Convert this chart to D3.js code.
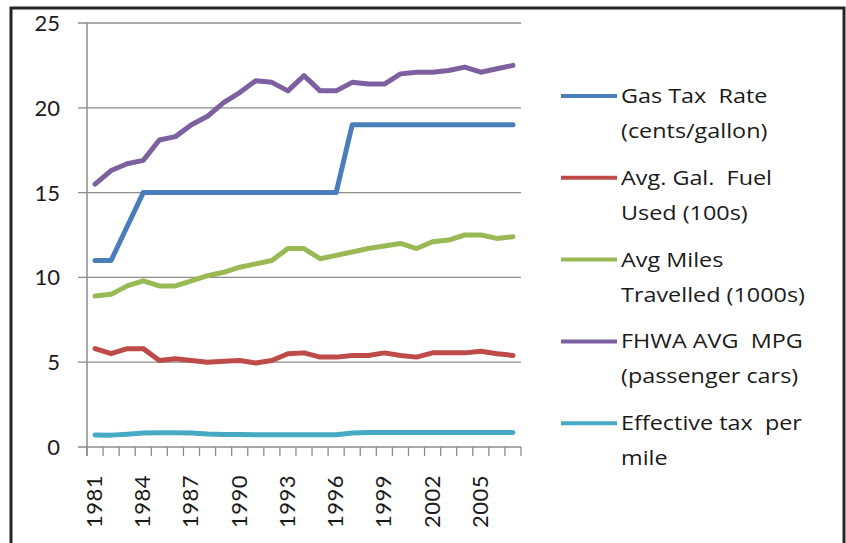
<!DOCTYPE html>
<html>
<head>
<meta charset="utf-8">
<script src="https://cdn.jsdelivr.net/npm/d3@7"></script>
<style>
    html, body { margin: 0; padding: 0; background: #fff; }
    svg text { font-family: Lato, "Open Sans", sans-serif; fill: #1a1a1a; }
    svg text.legend-text { font-family: "Open Sans", Lato, sans-serif; }
</style>
</head>
<body>
<svg id="chart" width="846" height="543"></svg>
<script>
// Years on the category axis
const years = d3.range(1981, 2008).map(String);
const yearLabels = ["1981", "1984", "1987", "1990", "1993", "1996", "1999", "2002", "2005"];
const yTicks = [0, 5, 10, 15, 20, 25];

// Series values
const gasTaxRate = [11, 11, 13, 15, 15, 15, 15, 15, 15, 15, 15, 15, 15, 15, 15, 15,
    19, 19, 19, 19, 19, 19, 19, 19, 19, 19, 19];
const avgGalFuel = [5.8, 5.5, 5.8, 5.8, 5.1, 5.2, 5.1, 5.0, 5.05, 5.1, 4.95, 5.1, 5.5,
    5.55, 5.3, 5.3, 5.4, 5.4, 5.55, 5.4, 5.3, 5.55, 5.55, 5.55, 5.65, 5.5, 5.4];
const avgMiles = [8.9, 9.0, 9.5, 9.8, 9.5, 9.5, 9.8, 10.1, 10.3, 10.6, 10.8, 11.0, 11.7,
    11.7, 11.1, 11.3, 11.5, 11.7, 11.85, 12.0, 11.7, 12.1, 12.2, 12.5, 12.5, 12.3, 12.4];
const fhwaMpg = [15.5, 16.3, 16.7, 16.9, 18.1, 18.3, 19.0, 19.5, 20.3, 20.9, 21.6, 21.5,
    21.0, 21.9, 21.0, 21.0, 21.5, 21.4, 21.4, 22.0, 22.1, 22.1, 22.2, 22.4, 22.1, 22.3, 22.5];
const effTaxPerMile = [0.71, 0.70, 0.75, 0.82, 0.84, 0.84, 0.83, 0.76, 0.73, 0.73, 0.72,
    0.72, 0.72, 0.72, 0.72, 0.72, 0.82, 0.86, 0.86, 0.86, 0.86, 0.86, 0.86, 0.86, 0.86, 0.86, 0.85];

const seriesNames = [
    ["Gas Tax  Rate", "(cents/gallon)"],
    ["Avg. Gal.  Fuel", "Used (100s)"],
    ["Avg Miles", "Travelled (1000s)"],
    ["FHWA AVG  MPG", "(passenger cars)"],
    ["Effective tax  per", "mile"]
];
const seriesColors = ["#4a7ebb", "#be4b48", "#98b954", "#7d60a0", "#46aac5"];
const seriesValues = [gasTaxRate, avgGalFuel, avgMiles, fhwaMpg, effTaxPerMile];

const svg = d3.select('#chart');

// outer frame
svg.append('rect')
    .attr('x', 11).attr('y', 8)
    .attr('width', 833).attr('height', 560)
    .attr('fill', 'none')
    .attr('stroke', '#262626')
    .attr('stroke-width', 3);

const plot = { left: 87, right: 521, top: 23, bottom: 447 };

const x = d3.scaleBand()
    .domain(years)
    .range([plot.left, plot.right])
    .paddingInner(0).paddingOuter(0);

const y = d3.scaleLinear()
    .domain([0, 25])
    .range([plot.bottom, plot.top]);

// horizontal gridlines (with the small left ticks)
svg.append('g')
    .selectAll('line')
    .data(yTicks.filter(d => d > 0))
    .enter().append('line')
    .attr('x1', plot.left - 9)
    .attr('x2', plot.right)
    .attr('y1', d => y(d))
    .attr('y2', d => y(d))
    .attr('stroke', '#8c8c8c')
    .attr('stroke-width', 1.3);

// y axis labels
svg.append('g')
    .selectAll('text')
    .data(yTicks)
    .enter().append('text')
    .attr('x', 60)
    .attr('y', d => y(d) + 8)
    .attr('text-anchor', 'end')
    .style('font-size', '22px')
    .text(d => d);

// axis lines
svg.append('line')
    .attr('x1', plot.left).attr('x2', plot.left)
    .attr('y1', plot.top).attr('y2', plot.bottom + 9)
    .attr('stroke', '#8c8c8c').attr('stroke-width', 1.5);
svg.append('line')
    .attr('x1', plot.left - 9).attr('x2', plot.right)
    .attr('y1', plot.bottom).attr('y2', plot.bottom)
    .attr('stroke', '#8c8c8c').attr('stroke-width', 1.5);

// x ticks between categories
const tickPos = years.map(d => x(d)).concat([plot.right]);
svg.append('g')
    .selectAll('line')
    .data(tickPos)
    .enter().append('line')
    .attr('x1', d => d).attr('x2', d => d)
    .attr('y1', plot.bottom).attr('y2', plot.bottom + 9)
    .attr('stroke', '#8c8c8c').attr('stroke-width', 1.3);

// rotated year labels
svg.append('g')
    .selectAll('text')
    .data(yearLabels)
    .enter().append('text')
    .attr('transform', d => `translate(${x(d) + x.bandwidth() / 2 + 7},528) rotate(-90)`)
    .style('font-size', '22px')
    .style('letter-spacing', '0.5px')
    .text(d => d);

// lines
const line = d3.line()
    .x((d, i) => x(years[i]) + x.bandwidth() / 2)
    .y(d => y(d));

svg.append('g')
    .selectAll('path')
    .data(seriesValues)
    .enter().append('path')
    .attr('d', d => line(d))
    .attr('fill', 'none')
    .attr('stroke', (d, i) => seriesColors[i])
    .attr('stroke-width', 5)
    .attr('stroke-linejoin', 'round')
    .attr('stroke-linecap', 'round');

// legend
const legend = svg.append('g')
    .selectAll('g')
    .data(seriesNames)
    .enter().append('g')
    .attr('transform', (d, i) => `translate(561,${96 + i * 81.8})`);

legend.append('line')
    .attr('x1', 0).attr('x2', 56)
    .attr('stroke', (d, i) => seriesColors[i])
    .attr('stroke-width', 4);

// text in the picture is wider than the font, so stretch it a little
const legendText = legend.append('g')
    .attr('transform', 'translate(60,0) scale(1.17,1)');

legendText.append('text')
    .attr('class', 'legend-text')
    .attr('y', 7)
    .style('font-size', '20px')
    .style('white-space', 'pre')
    .text(d => d[0]);

legendText.append('text')
    .attr('class', 'legend-text')
    .attr('y', 42)
    .style('font-size', '20px')
    .style('white-space', 'pre')
    .text(d => d[1]);
</script>
</body>
</html>
